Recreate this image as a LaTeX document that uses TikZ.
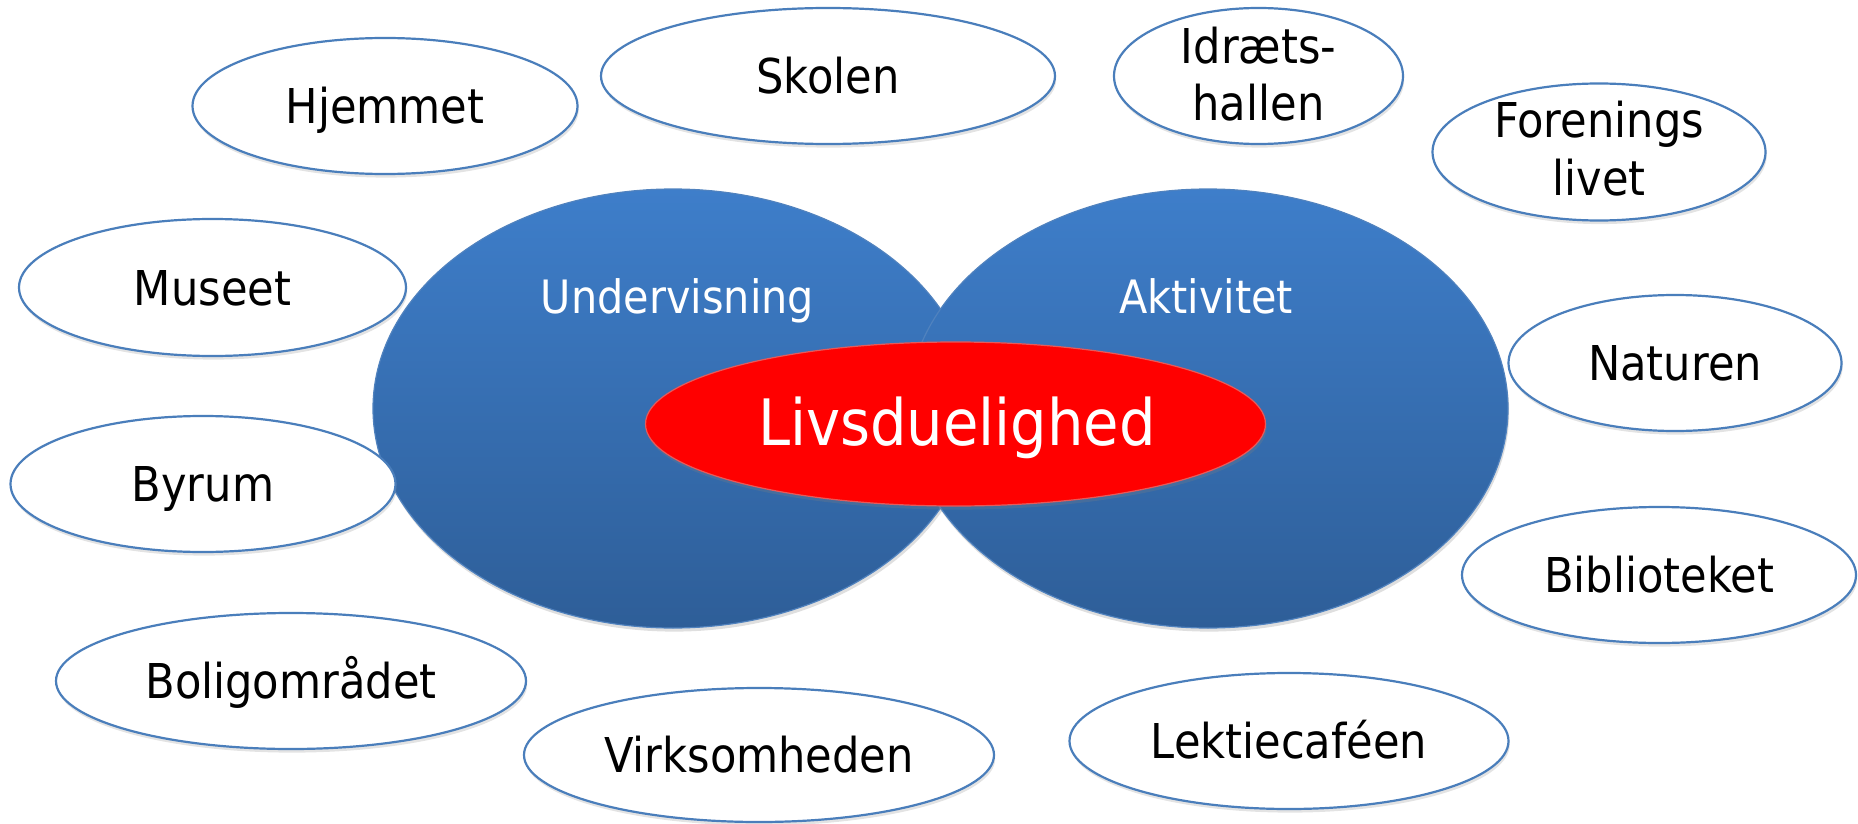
\documentclass[tikz,border=0pt]{standalone}
\usepackage{fontspec}
\setmainfont{DejaVu Sans}[FakeStretch=0.9]
\usetikzlibrary{shapes.geometric,shadows}
\definecolor{edgeblue}{RGB}{74,126,187}
\definecolor{topblue}{RGB}{62,126,202}
\definecolor{botblue}{RGB}{46,94,152}
\definecolor{bigedge}{RGB}{80,130,190}
\definecolor{rededge}{RGB}{230,90,90}
\tikzset{
  place/.style={ellipse, draw=edgeblue, line width=1.1pt, fill=white,
    inner sep=0pt, outer sep=0pt, text=black,
    font=\fontsize{24}{28.5}\selectfont,
    drop shadow={opacity=0.22, shadow xshift=0.6pt, shadow yshift=-1.8pt}},
  capc/.style={text height=17.5pt, text depth=0pt},
  lbl/.style={inner sep=0pt, outer sep=0pt, anchor=base, text=black,
    font=\fontsize{24}{28.5}\selectfont},
  bigblue/.style={ellipse, draw=bigedge, line width=0.6pt,
    top color=topblue, bottom color=botblue, inner sep=0pt,
    minimum width=300pt, minimum height=219.5pt,
    drop shadow={opacity=0.25, shadow xshift=0.6pt, shadow yshift=-1.8pt}},
  inlbl/.style={inner sep=0pt, outer sep=0pt, anchor=base, text=white,
    font=\fontsize{23}{28}\selectfont},
  core/.style={ellipse, draw=rededge, line width=0.6pt, fill=red,
    inner sep=0pt, minimum width=310pt, minimum height=82pt,
    drop shadow={opacity=0.25, shadow xshift=0.6pt, shadow yshift=-1.8pt}},
  corelbl/.style={inner sep=0pt, outer sep=0pt, anchor=base, text=white,
    font=\fontsize{32}{38}\selectfont}
}
\begin{document}
\begin{tikzpicture}[x=0.5pt,y=-0.5pt]
\useasboundingbox (0,0) rectangle (1858,824);
% central circles
\node[bigblue] (underv) at (673,408.5) {};
\node[bigblue] (aktiv) at (1208,408.5) {};
\node[inlbl] (undervtxt) at (677.5,313) {Undervisning};
\node[inlbl] (aktivtxt) at (1206,313) {Aktivitet};
\node[core] (livs) at (955.5,424) {};
\node[corelbl] (livstxt) at (957,445) {Livsduelighed};
% surrounding places
\node[place, capc, minimum width=192.5pt, minimum height=68pt] (hjem) at (385,106) {Hjemmet};
\node[place, capc, minimum width=227pt, minimum height=68pt] (skol) at (828,76) {Skolen};
\node[place, minimum width=144.5pt, minimum height=68pt] (idr) at (1258.5,76) {};
\node[lbl] (idr1) at (1258.5,64) {Idræts-};
\node[lbl] (idr2) at (1258.5,120) {hallen};
\node[place, minimum width=166.5pt, minimum height=68.5pt] (foren) at (1599,152) {};
\node[lbl] (foren1) at (1599,138) {Forenings};
\node[lbl] (foren2) at (1599,195) {livet};
\node[place, capc, minimum width=193.5pt, minimum height=68.5pt] (mus) at (212.5,287.5) {Museet};
\node[place, capc, minimum width=166.5pt, minimum height=68pt] (nat) at (1675,363) {Naturen};
\node[place, capc, minimum width=192.5pt, minimum height=68pt] (byr) at (203,484) {Byrum};
\node[place, capc, minimum width=197pt, minimum height=68pt] (bib) at (1659,575) {Biblioteket};
\node[place, capc, minimum width=235pt, minimum height=68pt] (bol) at (291,681) {Boligområdet};
\node[place, capc, minimum width=235pt, minimum height=67pt] (virk) at (759,755) {Virksomheden};
\node[place, capc, minimum width=219.5pt, minimum height=68pt] (lek) at (1289,741) {Lektiecaféen};
\end{tikzpicture}
\end{document}
